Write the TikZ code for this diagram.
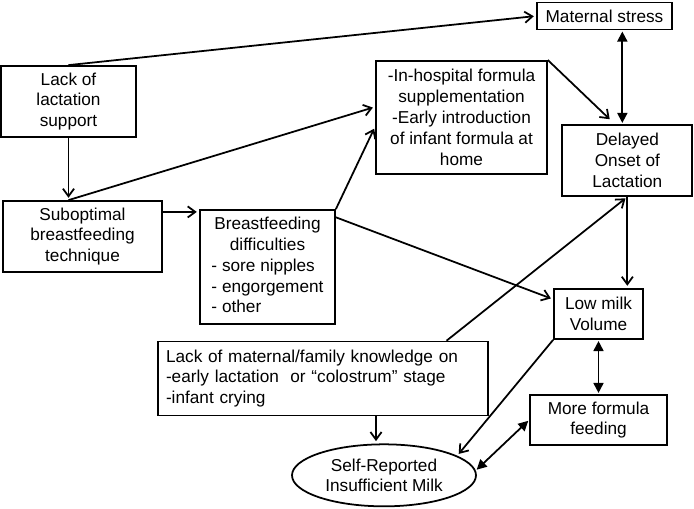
\documentclass[tikz,border=0pt]{standalone}
\usepackage{fontspec}
\setmainfont{Liberation Sans}
\usetikzlibrary{shapes.geometric, arrows.meta, positioning}

\begin{document}
\begin{tikzpicture}[
    every node/.style={font=\fontsize{14.7}{17.8}\selectfont},
    box/.style={rectangle, draw=black, line width=1.5pt, align=center, inner sep=2pt},
    oval/.style={ellipse, draw=black, line width=1.5pt, align=center, inner sep=0pt},
    arrow/.style={-{Straight Barb[length=6.5pt,width=9.5pt]}, line width=1.5pt, shorten >=2pt},
    darrow/.style={{Triangle[length=8.5pt,width=8.5pt]}-{Triangle[length=8.5pt,width=8.5pt]}, line width=1.5pt, shorten >=1pt, shorten <=1pt}
]
\useasboundingbox (0,0) rectangle (20.82,15.24);

% Left column
\node[box, minimum width=4.05cm, minimum height=2.13cm] (lack) at (2.055, 12.195) {Lack of\\lactation\\support};
\node[box, minimum width=4.77cm, minimum height=2.13cm] (subopt) at (2.475, 8.145) {Suboptimal\\breastfeeding\\technique};

% Middle
\node[box, minimum width=4.05cm, minimum height=3.42cm] (diff) at (8.025, 7.23) {%
    \begin{tabular}{@{}l@{}}
    \multicolumn{1}{@{}c@{}}{Breastfeeding}\\
    \multicolumn{1}{@{}c@{}}{difficulties}\\
    - sore nipples\\
    - engorgement\\
    - other
    \end{tabular}};
\node[box, minimum width=5.13cm, minimum height=3.39cm] (hosp) at (13.845, 11.715) {-In-hospital formula\\supplementation\\-Early introduction\\of infant formula at\\home};
\node[box, text width=9.42cm, inner sep=0.24cm, minimum height=2.13cm, align=left] (know) at (9.69, 3.885) {Lack of maternal/family knowledge on\\-early lactation~ or “colostrum” stage\\-infant crying};
\node[oval, minimum width=5.52cm, minimum height=1.86cm] (ell) at (11.52, 0.98) {Self-Reported\\Insufficient Milk};

% Right column
\node[box, minimum width=4.05cm, minimum height=0.81cm] (stress) at (18.135, 14.76) {Maternal stress};
\node[box, minimum width=3.9cm, minimum height=2.13cm] (delay) at (18.82, 10.425) {Delayed\\Onset of\\Lactation};
\node[box, minimum width=2.67cm, minimum height=1.5cm] (low) at (17.955, 5.82) {Low milk\\Volume};
\node[box, minimum width=4.11cm, minimum height=1.5cm] (more) at (17.955, 2.64) {More formula\\feeding};

% Connections from the left
\coordinate (subtop) at (lack.south |- subopt.north);
\draw[arrow] (lack.north) -- (stress.west);
\draw[arrow] (lack.south) -- (subtop);
\draw[arrow] (subtop) -- (hosp.173);
\draw[arrow] (subopt.17) -- (subopt.17 -| diff.west);

% Middle connections
\draw[arrow] (diff.north east) -- (hosp.186);
\draw[arrow] (diff.36) -- (low.162);
\draw[arrow, shorten >=6pt] (hosp.north east) -- (delay.109);
\draw[arrow] (know.17) -- (delay.south);

% Right column connections
\coordinate (delaytop) at ([xshift=-0.15cm]delay.north);
\draw[darrow] (delaytop |- stress.south) -- (delaytop);
\draw[arrow] (delay.south) -- (delay.south |- low.north);
\draw[darrow] (low.south) -- (more.north);

% Towards the ellipse
\draw[arrow] (low.south west) -- (ell.15);
\draw[darrow] (ell.3) -- (more.west);
\coordinate (elltop) at ([xshift=-0.24cm]ell.north);
\draw[arrow] (elltop |- know.south) -- (elltop);

\end{tikzpicture}
\end{document}
